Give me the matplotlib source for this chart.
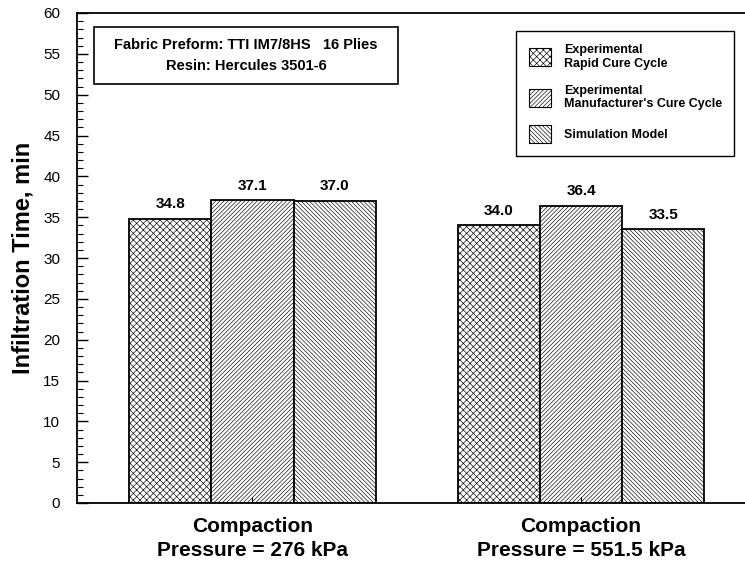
import matplotlib
matplotlib.use("Agg")
import matplotlib.pyplot as plt
from matplotlib.patches import Patch, Rectangle
from matplotlib.ticker import MultipleLocator
import numpy as np

groups = ["Compaction\nPressure = 276 kPa", "Compaction\nPressure = 551.5 kPa"]
series_names = ["Experimental\nRapid Cure Cycle",
                "Experimental\nManufacturer's Cure Cycle",
                "Simulation Model"]
rapid = [34.8, 34.0]
manufacturer = [37.1, 36.4]
simulation = [37.0, 33.5]
series = [rapid, manufacturer, simulation]
hatches = ["xxxxx", "////////", "\\\\\\\\\\\\\\\\"]

plt.rcParams["font.family"] = ["Liberation Sans", "DejaVu Sans"]
plt.rcParams["hatch.linewidth"] = 0.45

W, H = 745, 568
ax_l, ax_r, ax_t, ax_b = 77, 745, 13, 503
fig = plt.figure(figsize=(W/100, H/100), dpi=100)
ax = fig.add_axes([ax_l/W, 1-ax_b/H, (ax_r-ax_l)/W, (ax_b-ax_t)/H])

x = np.arange(len(groups))
w = 0.25
for i, (vals, h) in enumerate(zip(series, hatches)):
    pos = x + (i - 1) * w
    bars = ax.bar(pos, vals, width=w, facecolor="white", edgecolor="black",
                  hatch=h, linewidth=1.3)
    for b, v in zip(bars, vals):
        ax.text(b.get_x() + b.get_width()/2, v + 0.9, f"{v:.1f}",
                ha="center", va="bottom", fontsize=11, fontweight="bold")

ax.set_xlim(-0.534, 1.499)
ax.set_ylim(0, 60)
ax.set_xticks(x)
ax.set_xticklabels(groups, fontsize=15, fontweight="bold", linespacing=1.35)
ax.tick_params(axis="x", direction="in", length=4, pad=10)
ax.yaxis.set_major_locator(MultipleLocator(5))
ax.yaxis.set_minor_locator(MultipleLocator(1))
ax.tick_params(axis="y", which="major", direction="in", length=8, labelsize=11, width=1, pad=12)
ax.tick_params(axis="y", which="minor", direction="in", length=4, width=0.8)
ax.set_ylabel("Infiltration Time, min", fontsize=17, fontweight="bold", labelpad=6)
ax.spines["right"].set_visible(False)
for s in ["left", "top", "bottom"]:
    ax.spines[s].set_linewidth(1.3)

def fx(px):
    return (px - ax_l) / (ax_r - ax_l)

def fy(py):
    return (ax_b - py) / (ax_b - ax_t)

# annotation box
bx0, bx1, by0, by1 = 94, 398, 27, 84
ax.add_patch(Rectangle((fx(bx0), fy(by1)), fx(bx1) - fx(bx0), fy(by0) - fy(by1),
                       transform=ax.transAxes, facecolor="white", edgecolor="black",
                       linewidth=1.2, zorder=5))
ax.text(fx((bx0 + bx1)/2), fy((by0 + by1)/2),
        "Fabric Preform: TTI IM7/8HS   16 Plies\nResin: Hercules 3501-6",
        transform=ax.transAxes, ha="center", va="center", fontsize=10.5,
        fontweight="bold", linespacing=1.6, zorder=6)

handles = [Patch(facecolor="white", edgecolor="black", hatch=h, linewidth=0.8) for h in hatches]
leg = ax.legend(handles, series_names, loc="upper left", bbox_to_anchor=(fx(510), fy(25)),
                fancybox=False, edgecolor="black", framealpha=1,
                prop={"size": 9, "weight": "bold"}, handlelength=1.8, handleheight=1.8,
                labelspacing=1.2, borderpad=1.0, handletextpad=1.0)
leg.get_frame().set_linewidth(1)

fig.savefig("out.png", dpi=100)
